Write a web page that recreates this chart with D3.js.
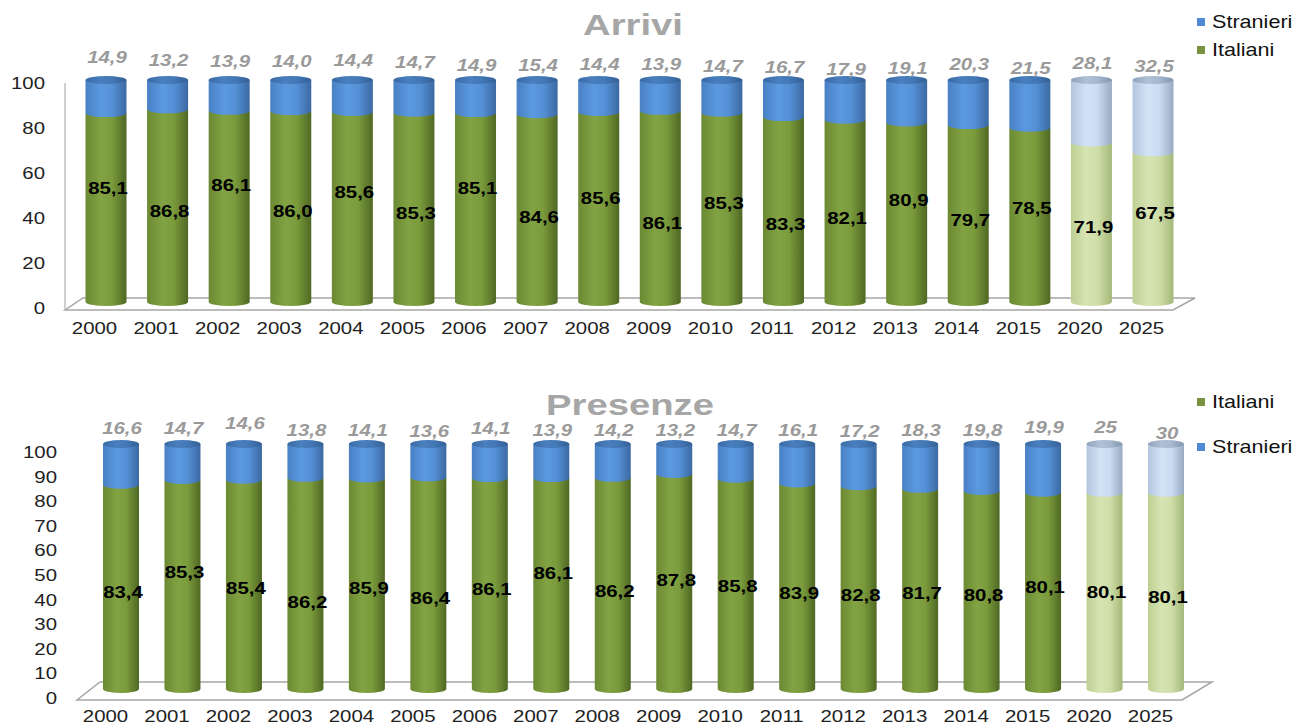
<!DOCTYPE html>
<html>
<head>
<meta charset="utf-8">
<script src="https://cdn.jsdelivr.net/npm/d3@7"></script>
<style>
    body { margin: 0; background: #fff; }
    svg { display: block; font-family: "Liberation Sans", Arial, sans-serif; }
</style>
</head>
<body>
<svg width="1293" height="726"></svg>
<script>
// ---- data ----
var years = ["2000", "2001", "2002", "2003", "2004", "2005", "2006", "2007", "2008",
    "2009", "2010", "2011", "2012", "2013", "2014", "2015", "2020", "2025"];
var projectedYears = ["2020", "2025"];

var arriviItaliani = [85.1, 86.8, 86.1, 86.0, 85.6, 85.3, 85.1, 84.6, 85.6,
    86.1, 85.3, 83.3, 82.1, 80.9, 79.7, 78.5, 71.9, 67.5];
var arriviStranieri = [14.9, 13.2, 13.9, 14.0, 14.4, 14.7, 14.9, 15.4, 14.4,
    13.9, 14.7, 16.7, 17.9, 19.1, 20.3, 21.5, 28.1, 32.5];

var presenzeItaliani = [83.4, 85.3, 85.4, 86.2, 85.9, 86.4, 86.1, 86.1, 86.2,
    87.8, 85.8, 83.9, 82.8, 81.7, 80.8, 80.1, 80.1, 80.1];
var presenzeStranieri = [16.6, 14.7, 14.6, 13.8, 14.1, 13.6, 14.1, 13.9, 14.2,
    13.2, 14.7, 16.1, 17.2, 18.3, 19.8, 19.9, 25, 30];

var arriviTicks = [0, 20, 40, 60, 80, 100];
var presenzeTicks = [0, 10, 20, 30, 40, 50, 60, 70, 80, 90, 100];

// ---- layout (label nudges, px) ----
var arriviItaShift = [-19, 5, -21, 5, -15, 6, -19, 9, -9, 17, -4, 15, 7, -12, 7, -7, 5, -14];
var arriviStrShift = [-6, -3, -2, -2, -3, -1, 2, 2, 1, 1, 3, 4, 6, 5, 1, 5, 0, 3];
var presenzeItaShift = [5, -12, 4, 19, 4, 15, 6, -10, 8, -1, 2, 7, 7, 4, 5, -4, 1, 6];
var presenzeStrShift = [-2, -2, -7, 0, 0, 1, -2, 0, 0, 0, 0, 0, 1, 0, 0, -3, -3, 3];

var svg = d3.select("svg");
var itLocale = d3.formatLocale({decimal: ",", thousands: ".", grouping: [3], currency: ["", "€"]});

var palette = {
    green: ["#6b8933", "#82a343", "#7a9a3b", "#4f6824"],
    blue: ["#4a80c4", "#5b99e0", "#5590d6", "#3b69a2"],
    cap: ["#3a6aa4", "#4a7fbf", "#4378b6", "#345f94"],
    greenLight: ["#bdd093", "#d6e4b3", "#cfdea8", "#a4b87a"],
    blueLight: ["#b3c6de", "#d3e3f7", "#cadcf2", "#98abc2"],
    capLight: ["#8fa2ba", "#b0c1d6", "#a6b8cf", "#8296ad"]
};

var defs = svg.append("defs");
Object.keys(palette).forEach(function (k) {
    var c = palette[k];
    var grad = defs.append("linearGradient").attr("id", "g-" + k)
        .attr("x1", "0%").attr("x2", "100%").attr("y1", "0%").attr("y2", "0%");
    grad.append("stop").attr("offset", "0%").attr("stop-color", c[0]);
    grad.append("stop").attr("offset", "38%").attr("stop-color", c[1]);
    grad.append("stop").attr("offset", "65%").attr("stop-color", c[2]);
    grad.append("stop").attr("offset", "100%").attr("stop-color", c[3]);
});

function stretch(sel, sx) {
    sel.each(function () {
        var t = d3.select(this);
        var x = +t.attr("x") || 0, y = +t.attr("y") || 0;
        t.attr("x", 0).attr("y", 0)
            .attr("transform", "translate(" + x + "," + y + ") scale(" + sx + ",1)");
    });
}

function drawChart(cfg) {
    var g = svg.append("g");
    var x = d3.scalePoint().domain(years).range(cfg.xRange);
    var y = d3.scaleLinear().domain([0, 100]).range(cfg.barY).clamp(true);
    var yAxisScale = d3.scaleLinear().domain([0, 100]).range(cfg.axisY);
    var w = cfg.barWidth, ry = 4;
    var first = x(years[0]), last = x(years[years.length - 1]);
    var floorY = yAxisScale(0) + 2;

    // floor
    var f = cfg.floor;
    g.append("path")
        .attr("d", "M" + (first - f.left) + "," + floorY +
            "L" + (last + f.right) + "," + floorY +
            "L" + (last + f.right + f.dxR) + "," + (floorY - f.dy) +
            "L" + (first - f.left + f.dxL) + "," + (floorY - f.dy) + "Z")
        .attr("fill", "#fff")
        .attr("stroke", "#a6a6a6")
        .attr("stroke-width", 1.5);

    if (cfg.showAxisLine) {
        g.append("line")
            .attr("x1", first - f.left).attr("x2", first - f.left)
            .attr("y1", yAxisScale(100)).attr("y2", floorY)
            .attr("stroke", "#bfbfbf").attr("stroke-width", 1.5);
    }

    // y axis labels
    var ya = g.append("g")
        .attr("transform", "translate(" + cfg.yLabelX + ",0)")
        .call(d3.axisLeft(yAxisScale).tickValues(cfg.ticks).tickSize(0).tickPadding(0));
    ya.select(".domain").remove();
    ya.selectAll("text")
        .attr("font-size", 17).attr("fill", "#222")
        .attr("font-family", "Liberation Sans, Arial, sans-serif")
        .attr("transform", "scale(1.2,1)");

    // x axis labels
    var xa = g.append("g")
        .attr("transform", "translate(" + cfg.xLabelDx + "," + cfg.xLabelY + ")")
        .call(d3.axisBottom(x).tickSize(0).tickPadding(0));
    xa.select(".domain").remove();
    xa.selectAll("text")
        .attr("font-size", 17).attr("fill", "#222")
        .attr("font-family", "Liberation Sans, Arial, sans-serif")
        .attr("transform", "scale(1.2,1)");

    // cylinders
    var rows = years.map(function (yr, i) {
        return {year: yr, ita: cfg.italiani[i], str: cfg.stranieri[i], i: i,
            proj: projectedYears.indexOf(yr) >= 0};
    });
    var bar = g.selectAll("g.bar").data(rows).enter().append("g").attr("class", "bar");

    bar.append("path")
        .attr("fill", function (d) { return d.proj ? "url(#g-greenLight)" : "url(#g-green)"; })
        .attr("d", function (d) {
            var cx = x(d.year), l = cx - w / 2, r = cx + w / 2;
            return "M" + l + "," + y(d.ita) + "L" + l + "," + y(0) +
                "A" + (w / 2) + "," + ry + " 0 0 0 " + r + "," + y(0) +
                "L" + r + "," + y(d.ita) + "Z";
        });
    bar.append("path")
        .attr("fill", function (d) { return d.proj ? "url(#g-blueLight)" : "url(#g-blue)"; })
        .attr("d", function (d) {
            var cx = x(d.year), l = cx - w / 2, r = cx + w / 2;
            return "M" + l + "," + y(d.ita + d.str) + "L" + l + "," + y(d.ita) +
                "A" + (w / 2) + "," + ry + " 0 0 0 " + r + "," + y(d.ita) +
                "L" + r + "," + y(d.ita + d.str) + "Z";
        });
    bar.append("ellipse")
        .attr("cx", function (d) { return x(d.year); })
        .attr("cy", function (d) { return y(d.ita + d.str); })
        .attr("rx", w / 2).attr("ry", ry)
        .attr("fill", function (d) { return d.proj ? "url(#g-capLight)" : "url(#g-cap)"; });

    // value labels
    bar.append("text")
        .attr("class", "ita")
        .attr("x", function (d) { return x(d.year) + 2; })
        .attr("y", function (d) { return y(d.ita / 2) + cfg.itaShift[d.i]; })
        .attr("dy", "0.35em")
        .attr("text-anchor", "middle")
        .attr("font-size", 17).attr("font-weight", "bold").attr("fill", "#000")
        .text(function (d) { return cfg.fmt(d.ita); });
    bar.append("text")
        .attr("class", "str")
        .attr("x", function (d) { return x(d.year) + 1; })
        .attr("y", function (d) { return cfg.strBaseY + cfg.strShift[d.i]; })
        .attr("dy", "0.35em")
        .attr("text-anchor", "middle")
        .attr("font-size", 17).attr("font-weight", "bold").attr("font-style", "italic")
        .attr("fill", "#9a9a9a")
        .text(function (d) { return cfg.fmt(d.str); });
    stretch(bar.selectAll("text"), 1.2);

    // title
    var title = g.append("text")
        .attr("x", cfg.titleX).attr("y", cfg.titleY)
        .attr("text-anchor", "middle")
        .attr("font-size", 29).attr("font-weight", "bold").attr("fill", "#a6a6a6")
        .text(cfg.title);
    stretch(title, 1.32);

    // legend
    var leg = g.selectAll("g.leg").data(cfg.legend).enter().append("g").attr("class", "leg")
        .attr("transform", function (d, i) { return "translate(1197," + cfg.legendY[i] + ")"; });
    leg.append("rect").attr("x", 0).attr("y", -4).attr("width", 8).attr("height", 8)
        .attr("fill", function (d) { return d.color; });
    var lt = leg.append("text").attr("x", 15).attr("y", 0).attr("dy", "0.35em")
        .attr("font-size", 18).attr("fill", "#111")
        .text(function (d) { return d.name; });
    stretch(lt, 1.2);
}

drawChart({
    title: "Arrivi", titleX: 633, titleY: 35,
    italiani: arriviItaliani, stranieri: arriviStranieri,
    ticks: arriviTicks,
    xRange: [106, 1153], barWidth: 41,
    barY: [302, 80], axisY: [308, 83],
    floor: {left: 41, right: 20, dxL: 18, dxR: 22, dy: 12},
    showAxisLine: true,
    yLabelX: 45, xLabelDx: -12, xLabelY: 322,
    itaShift: arriviItaShift, strShift: arriviStrShift, strBaseY: 63,
    fmt: itLocale.format(".1f"),
    legend: [{name: "Stranieri", color: "#4f8ad4"}, {name: "Italiani", color: "#77933c"}],
    legendY: [22, 50]
});

drawChart({
    title: "Presenze", titleX: 630, titleY: 415,
    italiani: presenzeItaliani, stranieri: presenzeStranieri,
    ticks: presenzeTicks,
    xRange: [121, 1166], barWidth: 36,
    barY: [689, 444], axisY: [698, 452],
    floor: {left: 44, right: 16, dxL: 23, dxR: 30, dy: 18},
    showAxisLine: false,
    yLabelX: 57, xLabelDx: -16, xLabelY: 710,
    itaShift: presenzeItaShift, strShift: presenzeStrShift, strBaseY: 430,
    fmt: itLocale.format(".1~f"),
    legend: [{name: "Italiani", color: "#77933c"}, {name: "Stranieri", color: "#4f8ad4"}],
    legendY: [402, 447]
});
</script>
</body>
</html>
